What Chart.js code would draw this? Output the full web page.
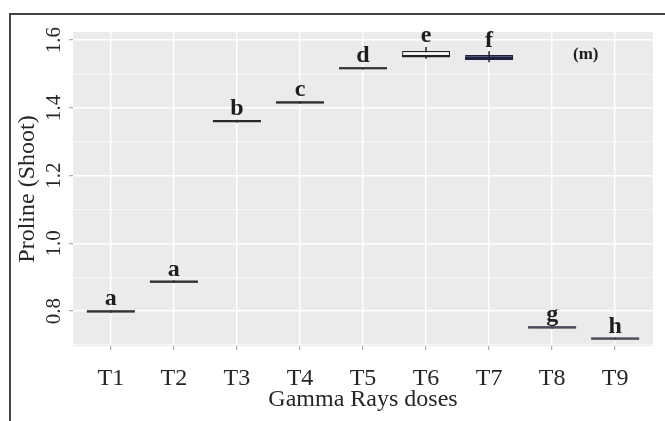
<!DOCTYPE html>
<html>
<head>
<meta charset="utf-8">
<title>Proline (Shoot)</title>
<script src="https://cdn.jsdelivr.net/npm/chart.js"></script>
<style>
    html, body { margin: 0; padding: 0; background: #fff; }
    #wrap { position: relative; width: 665px; height: 421px; overflow: hidden; }
    #frame { position: absolute; left: 9px; top: 13px; width: 700px; height: 450px;
             border-left: 2px solid #444; border-top: 2px solid #444; }
    #chart { position: absolute; left: 0; top: 0; }
</style>
</head>
<body>
<div id="wrap">
    <div id="frame"></div>
    <canvas id="chart" width="665" height="421"></canvas>
</div>
<script>
"use strict";
// Treatments
const doses = ["T1", "T2", "T3", "T4", "T5", "T6", "T7", "T8", "T9"];

// Box statistics per treatment
const q1 = [0.796, 0.884, 1.358, 1.413, 1.514, 1.551, 1.541, 0.749, 0.716];
const median = [0.799, 0.887, 1.361, 1.416, 1.517, 1.553, 1.547, 0.752, 0.719];
const q3 = [0.802, 0.890, 1.364, 1.419, 1.520, 1.568, 1.556, 0.755, 0.722];
const whiskerLow = [0.796, 0.884, 1.358, 1.413, 1.514, 1.546, 1.536, 0.749, 0.716];
const whiskerHigh = [0.802, 0.890, 1.364, 1.419, 1.520, 1.579, 1.566, 0.755, 0.722];

// Significance letters
const letters = ["a", "a", "b", "c", "d", "e", "f", "g", "h"];
const panelTag = "(m)";

const boxFill = ["#333", "#333", "#2a2a2a", "#333", "#333", "#f6f6f6", "#25335e", "#4a4a5a", "#4a4a5a"];
const boxEdge = ["#333", "#333", "#2a2a2a", "#333", "#333", "#222", "#1c2340", "#4a4a5a", "#4a4a5a"];

const serif = '"Liberation Serif", "Times New Roman", serif';
const textColor = "#262626";

function isMajor(v) {
    return Math.round(v * 10) % 2 === 0;
}

// gray panel behind the grid
const panelBg = {
    id: "panelBg",
    beforeDraw(chart) {
        const { ctx, chartArea: a } = chart;
        ctx.save();
        ctx.fillStyle = "#ebebeb";
        ctx.fillRect(a.left, a.top, a.width, a.height);
        ctx.restore();
    }
};

// letters above each box + panel tag
const letterLabels = {
    id: "letterLabels",
    afterDatasetsDraw(chart) {
        const { ctx, chartArea: a } = chart;
        const x = chart.scales.x;
        const y = chart.scales.y;
        ctx.save();
        ctx.fillStyle = "#1e1e1e";
        ctx.textAlign = "center";
        ctx.textBaseline = "alphabetic";
        ctx.font = "bold 24px " + serif;
        letters.forEach((l, i) => {
            ctx.fillText(l, x.getPixelForValue(i + 1), y.getPixelForValue(whiskerHigh[i]) - 5);
        });
        ctx.font = "bold 17px " + serif;
        ctx.textBaseline = "middle";
        ctx.fillText(panelTag, a.left + a.width * 0.884, a.top + a.height * 0.073);
        ctx.restore();
    }
};

const boxes = doses.map((d, i) => ({ x: i + 1, y: [q1[i], q3[i]] }));
const whiskers = doses.map((d, i) => ({ x: i + 1, y: [whiskerLow[i], whiskerHigh[i]] }));
const medians = doses.map((d, i) => ({ x: i + 1, y: median[i] }));

const config = {
    type: "bar",
    data: {
        datasets: [
            {
                type: "scatter",
                data: medians,
                pointStyle: "line",
                pointRadius: 24,
                pointHoverRadius: 24,
                pointBorderWidth: 2.2,
                pointBorderColor: boxEdge,
                order: 0
            },
            {
                data: boxes,
                backgroundColor: boxFill,
                borderColor: boxEdge,
                borderWidth: 1.2,
                borderSkipped: false,
                grouped: false,
                categoryPercentage: 1,
                barPercentage: 0.76,
                order: 1
            },
            {
                data: whiskers,
                backgroundColor: "#333",
                barThickness: 1,
                grouped: false,
                order: 2
            }
        ]
    },
    options: {
        responsive: false,
        animation: false,
        events: [],
        layout: { autoPadding: false, padding: { left: 0, right: 12, top: 32, bottom: 0 } },
        plugins: { legend: { display: false }, tooltip: { enabled: false } },
        scales: {
            x: {
                type: "linear",
                min: 0.4,
                max: 9.6,
                offset: false,
                border: { display: false },
                grid: { offset: false, color: "#fff", lineWidth: 1.4, tickLength: 4, tickColor: "#999", tickWidth: 1 },
                ticks: {
                    stepSize: 1,
                    includeBounds: false,
                    autoSkip: false,
                    maxRotation: 0,
                    padding: 14,
                    color: textColor,
                    font: { family: serif, size: 24 },
                    callback: v => doses[Math.round(v) - 1]
                },
                title: {
                    display: true,
                    text: "Gamma Rays doses",
                    color: textColor,
                    font: { family: serif, size: 24 },
                    padding: { top: 0, bottom: 7 }
                },
                afterFit(scale) {
                    scale.height = 75;
                    scale.paddingLeft = 0;
                    scale.paddingRight = 0;
                }
            },
            y: {
                min: 0.697,
                max: 1.624,
                border: { display: false },
                grid: {
                    color: "#fff",
                    lineWidth: c => isMajor(c.tick.value) ? 1.4 : 0.6,
                    tickLength: 4,
                    tickColor: c => isMajor(c.tick.value) ? "#999" : "rgba(0,0,0,0)",
                    tickWidth: 1
                },
                ticks: {
                    stepSize: 0.1,
                    includeBounds: false,
                    autoSkip: false,
                    minRotation: 90,
                    maxRotation: 90,
                    crossAlign: "center",
                    padding: 1,
                    color: textColor,
                    font: { family: serif, size: 21 },
                    callback: v => isMajor(v) ? v.toFixed(1) : ""
                },
                title: {
                    display: true,
                    text: "Proline (Shoot)",
                    color: textColor,
                    font: { family: serif, size: 24 },
                    padding: { top: 13, bottom: 0 }
                },
                afterFit(scale) {
                    scale.width = 73;
                    scale.paddingTop = 0;
                    scale.paddingBottom = 0;
                }
            }
        }
    },
    plugins: [panelBg, letterLabels]
};

const myChart = new Chart(document.getElementById("chart"), config);
</script>
</body>
</html>
